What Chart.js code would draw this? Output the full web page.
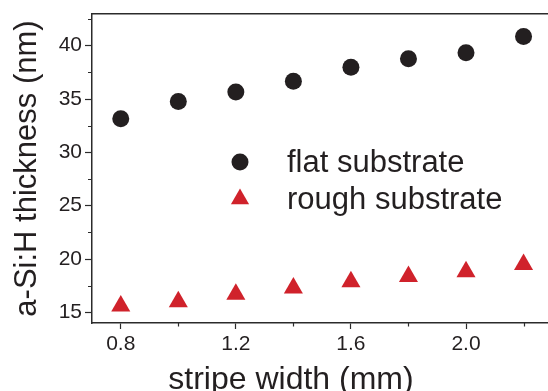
<!DOCTYPE html>
<html><head><meta charset="utf-8">
<script src="https://cdn.jsdelivr.net/npm/chart.js@4.4.1/dist/chart.umd.min.js"></script>
<style>html,body{margin:0;padding:0;background:#fff;overflow:hidden}canvas{display:block}</style>
</head><body>
<canvas id="c" width="548" height="391"></canvas>
<script>
// ---- data ----
const X_VALUES = [0.8, 1.0, 1.2, 1.4, 1.6, 1.8, 2.0, 2.2];
const FLAT = [33.14, 34.76, 35.66, 36.66, 37.97, 38.78, 39.34, 40.87];
const ROUGH = [15.59, 15.99, 16.69, 17.28, 17.87, 18.37, 18.80, 19.49];
const SERIES_NAMES = ['flat substrate', 'rough substrate'];
const X_TICKS = [0.8, 1.2, 1.6, 2.0];
const X_MINOR = [1.0, 1.4, 1.8, 2.2];
const Y_TICKS = [15, 20, 25, 30, 35, 40];
const Y_MINOR = [17.5, 22.5, 27.5, 32.5, 37.5, 42.5];
const X_TITLE = 'stripe width (mm)';
const Y_TITLE = 'a-Si:H thickness (nm)';

// ---- style ----
const FONT = '"Liberation Sans", Arial, Helvetica, sans-serif';
const TEXT = '#231f20';
const AXIS = '#2b2b2b';
const BLACK = '#231f20';
const RED = '#d0222b';

const toPts = ys => X_VALUES.map((x, i) => ({x, y: ys[i]}));

const extras = {
  id: 'extras',
  afterDraw(chart) {
    const ctx = chart.ctx, ca = chart.chartArea;
    const xs = chart.scales.x, ys = chart.scales.y;
    ctx.save();
    // minor ticks
    ctx.strokeStyle = AXIS; ctx.lineWidth = 1.2;
    ctx.beginPath();
    Y_MINOR.forEach(v => {
      const y = Math.round(ys.getPixelForValue(v)) + 0.5;
      if (y < ca.top || y > ca.bottom) return;
      ctx.moveTo(ca.left - 4, y); ctx.lineTo(ca.left, y);
    });
    X_MINOR.forEach(v => {
      const x = Math.round(xs.getPixelForValue(v)) + 0.5;
      if (x < ca.left || x > ca.right) return;
      ctx.moveTo(x, ca.bottom); ctx.lineTo(x, ca.bottom + 3.5);
    });
    ctx.stroke();

    // legend
    const lx = ca.left + 148, ly = ca.top + 148, gap = 37;
    chart.data.datasets.forEach((ds, i) => {
      const cx = lx, cy = ly + i * gap;
      ctx.fillStyle = ds.backgroundColor;
      ctx.beginPath();
      if (ds.pointStyle === 'triangle') {
        const r = 10.5;
        ctx.moveTo(cx, cy - r);
        ctx.lineTo(cx + 0.866 * r, cy + 0.5 * r);
        ctx.lineTo(cx - 0.866 * r, cy + 0.5 * r);
        ctx.closePath();
      } else {
        ctx.arc(cx, cy, 8.5, 0, Math.PI * 2);
      }
      ctx.fill();
      ctx.fillStyle = TEXT;
      ctx.font = '31px ' + FONT;
      ctx.textAlign = 'left';
      ctx.textBaseline = 'middle';
      ctx.fillText(ds.label, lx + 47, cy + 1);
    });

    // x axis title
    ctx.fillStyle = TEXT;
    ctx.font = '32px ' + FONT;
    ctx.textAlign = 'center';
    ctx.textBaseline = 'alphabetic';
    ctx.fillText(X_TITLE, ca.left + 199, 389);
    ctx.restore();
  }
};

new Chart(document.getElementById('c'), {
  type: 'scatter',
  data: {
    datasets: [
      { label: SERIES_NAMES[0], data: toPts(FLAT), pointStyle: 'circle', pointRadius: 8.5,
        backgroundColor: BLACK, borderColor: BLACK, borderWidth: 0, pointHoverRadius: 8.5 },
      { label: SERIES_NAMES[1], data: toPts(ROUGH), pointStyle: 'triangle', pointRadius: 11,
        backgroundColor: RED, borderColor: RED, borderWidth: 0, pointHoverRadius: 11 }
    ]
  },
  options: {
    responsive: false,
    animation: false,
    devicePixelRatio: 1,
    layout: { autoPadding: false, padding: { top: 14, right: 0, left: 0, bottom: 0 } },
    plugins: { legend: { display: false }, tooltip: { enabled: false } },
    scales: {
      x: {
        type: 'linear', position: 'bottom', min: 0.7, max: 2.285,
        afterBuildTicks: s => { s.ticks = X_TICKS.map(v => ({value: v})); },
        afterFit: s => { s.height = 68; },
        ticks: { color: TEXT, padding: 5, font: { family: FONT, size: 21, lineHeight: 1 },
                 callback: v => Number(v).toFixed(1), maxRotation: 0, autoSkip: false },
        grid: { drawOnChartArea: false, drawTicks: true, tickLength: 6, tickColor: AXIS, tickWidth: 1.2 },
        border: { display: true, color: AXIS, width: 1.5 },
        title: { display: false }
      },
      x2: {
        type: 'linear', position: 'top', min: 0.7, max: 2.285,
        afterFit: s => { s.height = 0; },
        ticks: { display: false },
        grid: { display: false, drawTicks: false },
        border: { display: true, color: AXIS, width: 1.5 }
      },
      y: {
        type: 'linear', position: 'left', min: 14, max: 42.97,
        afterBuildTicks: s => { s.ticks = Y_TICKS.map(v => ({value: v})); },
        afterFit: s => { s.width = 92; },
        ticks: { color: TEXT, padding: 3, font: { family: FONT, size: 21, lineHeight: 1 },
                 callback: v => String(v), autoSkip: false },
        grid: { drawOnChartArea: false, drawTicks: true, tickLength: 7, tickColor: AXIS, tickWidth: 1.2 },
        border: { display: true, color: AXIS, width: 1.5 },
        title: { display: true, text: Y_TITLE, color: TEXT,
                 font: { family: FONT, size: 31 }, padding: { top: 9, bottom: 0 } }
      }
    }
  },
  plugins: [extras]
});
</script></body></html>
